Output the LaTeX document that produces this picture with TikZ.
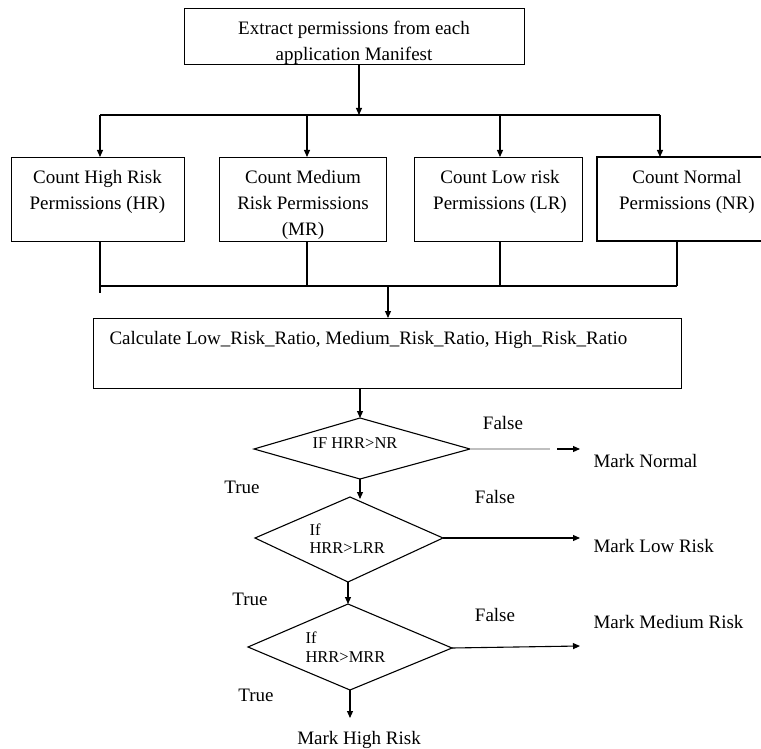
\documentclass[tikz,border=0pt]{standalone}
\usepackage{fontspec}
\setmainfont{Liberation Serif}
\usetikzlibrary{arrows.meta}
\begin{document}
\begin{tikzpicture}[x=1pt,y=-1pt, line width=1.1pt,
  arr/.style={-{Triangle[length=7pt,width=6pt]}},
  boxn/.style={draw, inner sep=0pt, anchor=north west},
  txt/.style={inner sep=0pt, font=\fontsize{19}{26}\selectfont},
  btxt/.style={txt, anchor=north, align=center},
  dtxt/.style={inner sep=0pt, anchor=base west, font=\fontsize{16.5}{18}\selectfont},
  lbl/.style={txt, anchor=base},
  mk/.style={txt, anchor=base west}]
\useasboundingbox (0,0) rectangle (761,749);

% top box
\node[boxn, minimum width=340pt, minimum height=56pt] (top) at (184,8) {};
\node[btxt] (toptxt) at (354,20.5) {Extract permissions from each\\application Manifest};

% four count boxes
\node[boxn, minimum width=173pt, minimum height=84pt] (hr) at (11,157) {};
\node[btxt] (hrtxt) at (97.5,169.5) {Count High Risk\\Permissions (HR)};
\node[boxn, minimum width=167pt, minimum height=84pt] (mr) at (219,157) {};
\node[btxt] (mrtxt) at (303,169.5) {Count Medium\\Risk Permissions\\(MR)};
\node[boxn, minimum width=168pt, minimum height=84pt] (lr) at (414,157) {};
\node[btxt] (lrtxt) at (500,169.5) {Count Low risk\\Permissions (LR)};
\coordinate (nrA) at (761,157);
\coordinate (nrB) at (597,157);
\coordinate (nrC) at (597,241);
\coordinate (nrD) at (761,241);
\draw (nrA) -- (nrB) -- (nrC) -- (nrD);
\node[btxt] (nrtxt) at (687,169.5) {Count Normal\\Permissions (NR)};

% split
\coordinate (s0) at (359,115);
\coordinate (s1) at (100,115);
\coordinate (s2) at (307,115);
\coordinate (s3) at (500,115);
\coordinate (s4) at (660,115);
\draw[arr] (top.south -| s0) -- (s0);
\draw (s1) -- (s4);
\draw[arr] (s1) -- (s1 |- hr.north);
\draw[arr] (s2) -- (s2 |- mr.north);
\draw[arr] (s3) -- (s3 |- lr.north);
\draw[arr] (s4) -- (s4 |- nrB);

% merge
\coordinate (m1) at (100,286);
\coordinate (m1e) at (100,293);
\coordinate (m2) at (307,286);
\coordinate (m3) at (500,286);
\coordinate (m4) at (677,286);
\coordinate (m0) at (388,286);
\draw (hr.south -| m1) -- (m1e);
\draw (mr.south -| m2) -- (m2);
\draw (lr.south -| m3) -- (m3);
\draw (nrC -| m4) -- (m4);
\draw (m1) -- (m4);

% calculate box
\node[boxn, minimum width=588pt, minimum height=70pt] (calc) at (93,318) {};
\node[txt, anchor=base west] (calctxt) at (109,344.5) {Calculate Low\_Risk\_Ratio, Medium\_Risk\_Ratio, High\_Risk\_Ratio};
\draw[arr] (m0) -- (m0 |- calc.north);

% diamond 1
\coordinate (d1t) at (360,418);
\coordinate (d1l) at (254,449);
\coordinate (d1r) at (470,449);
\coordinate (d1b) at (360,479);
\draw (d1t) -- (d1r) -- (d1b) -- (d1l) -- cycle;
\node[inner sep=0pt, anchor=base, font=\fontsize{16.5}{18}\selectfont] (d1txt) at (355,448.5) {IF HRR>NR};
\draw[arr] (calc.south -| d1t) -- (d1t);

% diamond 2
\coordinate (d2t) at (350,497);
\coordinate (d2l) at (255,538);
\coordinate (d2r) at (443,538);
\coordinate (d2b) at (348,582);
\draw (d2t) -- (d2r) -- (d2b) -- (d2l) -- cycle;
\node[dtxt] (d2a) at (309,535.5) {If};
\node[dtxt] (d2c) at (309,553.5) {HRR>LRR};
\coordinate (d1d2) at (360,499);
\draw[arr] (d1b) -- (d1d2);

% diamond 3
\coordinate (d3t) at (348,604);
\coordinate (d3l) at (248,647);
\coordinate (d3r) at (452,648);
\coordinate (d3b) at (350,690);
\draw (d3t) -- (d3r) -- (d3b) -- (d3l) -- cycle;
\node[dtxt] (d3a) at (305,643.5) {If};
\node[dtxt] (d3c) at (305,662.5) {HRR>MRR};
\draw[arr] (d2b) -- (d3t);

% outcomes
\node[mk] (mn) at (593,467) {Mark Normal};
\node[mk] (ml) at (593,552.5) {Mark Low Risk};
\node[mk] (mm) at (593,628.5) {Mark Medium Risk};
\node[lbl] (mh) at (359,744.5) {Mark High Risk};

\coordinate (f1a) at (550,449);
\coordinate (f1b) at (557,449);
\coordinate (f1c) at (580,449);
\draw[gray!50] (d1r) -- (f1a);
\draw[arr] (f1b) -- (f1c);
\coordinate (f2) at (580,538);
\draw[arr] (d2r) -- (f2);
\coordinate (f3) at (580,646);
\draw[arr] (d3r) -- (f3);
\coordinate (t3) at (350,718);
\draw[arr] (d3b) -- (t3);

% labels
\node[lbl] (fa) at (503,429.5) {False};
\node[lbl] (fb) at (495,503.5) {False};
\node[lbl] (fc) at (495,621.5) {False};
\node[lbl] (ta) at (242,493.5) {True};
\node[lbl] (tb) at (250,605.5) {True};
\node[lbl] (tc) at (256,701.5) {True};
\end{tikzpicture}
\end{document}
